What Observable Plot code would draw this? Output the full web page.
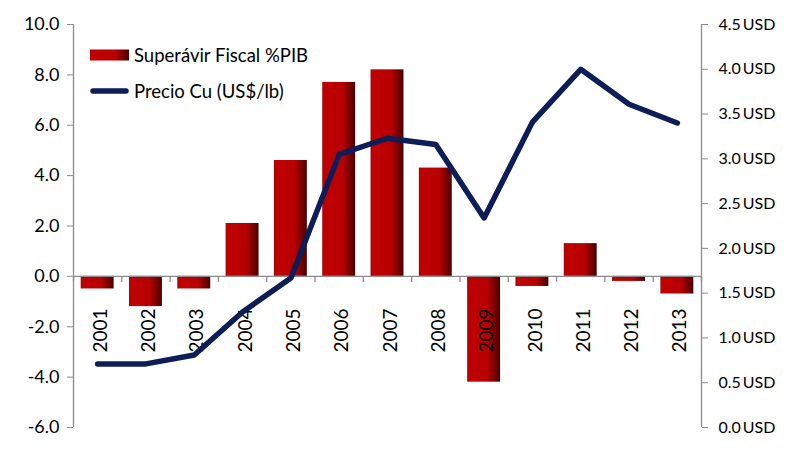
<!DOCTYPE html>
<html>
<head>
<meta charset="utf-8">
<script src="https://cdn.jsdelivr.net/npm/d3@7"></script>
<script src="https://cdn.jsdelivr.net/npm/@observablehq/plot@0.6"></script>
<style>
  html, body { margin: 0; padding: 0; background: #fff; }
  #wrap { position: relative; width: 792px; height: 452px; font-family: Lato, "Open Sans", sans-serif; }
  #legend { position: absolute; left: 90px; top: 42px; font-size: 18.5px; color: #000; line-height: 1; }
  .lg { display: flex; align-items: center; height: 26px; }
  .lg svg { margin-right: 5px; }
</style>
</head>
<body>
<div id="wrap">
  <div id="chart"></div>
  <div id="legend">
    <div class="lg">
      <svg width="39" height="12"><defs><linearGradient id="lgGrad" x1="0" x2="1" y1="0" y2="0"><stop offset="0" stop-color="#c00000"/><stop offset="0.65" stop-color="#b80000"/><stop offset="1" stop-color="#4a0000"/></linearGradient></defs><rect x="0" y="0.5" width="39" height="11" fill="url(#lgGrad)"/></svg>
      <span>Superávir Fiscal %PIB</span>
    </div>
    <div class="lg" style="margin-top:10px">
      <svg width="39" height="12"><line x1="3" y1="6" x2="36" y2="6" stroke="#0d1d58" stroke-width="5.5" stroke-linecap="round"/></svg>
      <span>Precio Cu (US$/lb)</span>
    </div>
  </div>
</div>
<script>
const years = [2001, 2002, 2003, 2004, 2005, 2006, 2007, 2008, 2009, 2010, 2011, 2012, 2013];
const fiscal = [-0.5, -1.2, -0.5, 2.1, 4.6, 7.7, 8.2, 4.3, -4.2, -0.4, 1.3, -0.2, -0.7];
const copper = [0.71, 0.71, 0.81, 1.29, 1.67, 3.05, 3.23, 3.16, 2.34, 3.41, 4.00, 3.61, 3.40];
const leftTicks = [-6, -4, -2, 0, 2, 4, 6, 8, 10];
const rightTicks = [0, 0.5, 1, 1.5, 2, 2.5, 3, 3.5, 4, 4.5];

const leftDomain = [-6, 10];
const rightDomain = [0, 4.5];
// map copper price (right axis) onto the left y scale
const toLeft = v => leftDomain[0] + (v - rightDomain[0]) * (leftDomain[1] - leftDomain[0]) / (rightDomain[1] - rightDomain[0]);
const fromLeft = v => rightDomain[0] + (v - leftDomain[0]) * (rightDomain[1] - rightDomain[0]) / (leftDomain[1] - leftDomain[0]);

const data = years.map((y, i) => ({year: y, fiscal: fiscal[i], cu: copper[i]}));
const bounds = [years[0] - 0.5, ...years.map(y => y + 0.5)];

const grid = "#8c8c8c";

const chart = Plot.plot({
  width: 792,
  height: 452,
  marginLeft: 73,
  marginRight: 91,
  marginTop: 24,
  marginBottom: 25,
  style: {fontFamily: "Lato, 'Open Sans', sans-serif", color: "#000", background: "#fff"},
  x: {domain: [years[0] - 0.5, years[years.length - 1] + 0.5], axis: null},
  y: {domain: leftDomain, axis: null},
  marks: [
    () => {
      const ns = "http://www.w3.org/2000/svg";
      const defs = document.createElementNS(ns, "defs");
      defs.innerHTML = `<linearGradient id="barGrad" x1="0" x2="1" y1="0" y2="0">
        <stop offset="0" stop-color="#a80000"/>
        <stop offset="0.06" stop-color="#c00000"/>
        <stop offset="0.62" stop-color="#b80000"/>
        <stop offset="1" stop-color="#480000"/>
      </linearGradient>`;
      return defs;
    },
    Plot.rectY(data, {
      x1: d => d.year - 0.5,
      x2: d => d.year + 0.5,
      y1: 0,
      y2: "fiscal",
      insetLeft: 7.7,
      insetRight: 7.7,
      fill: "url(#barGrad)"
    }),
    // zero line with category-boundary ticks
    Plot.ruleY([0], {stroke: grid, strokeWidth: 1.3}),
    Plot.ruleX(bounds, {x: d => d, y1: 0, y2: 0, stroke: grid, strokeWidth: 1.3, insetTop: 0, insetBottom: -6}),
    // left axis
    Plot.ruleX([years[0] - 0.5], {stroke: grid, strokeWidth: 1.3}),
    Plot.axisY({
      anchor: "left",
      ticks: leftTicks,
      tickSize: 6,
      tickPadding: 8,
      stroke: grid,
      fontSize: 18,
      tickFormat: d => d.toFixed(1),
      label: null
    }),
    // right axis
    Plot.ruleX([years[years.length - 1] + 0.5], {stroke: grid, strokeWidth: 1.3}),
    Plot.axisY({
      anchor: "right",
      ticks: rightTicks.map(toLeft),
      tickSize: 6,
      tickPadding: 11,
      stroke: grid,
      fontSize: 16,
      tickFormat: d => fromLeft(d).toFixed(1) + "\u2009USD",
      label: null
    }),
    // year labels, rotated
    Plot.text(data, {
      x: "year",
      y: 0,
      text: d => String(d.year),
      rotate: -90,
      textAnchor: "end",
      dy: 32,
      dx: 3,
      fontSize: 19,
      fill: "#000"
    }),
    Plot.line(data, {
      x: "year",
      y: d => toLeft(d.cu),
      stroke: "#0d1d58",
      strokeWidth: 5.5
    })
  ]
});
document.getElementById("chart").appendChild(chart);
</script>
</body>
</html>
